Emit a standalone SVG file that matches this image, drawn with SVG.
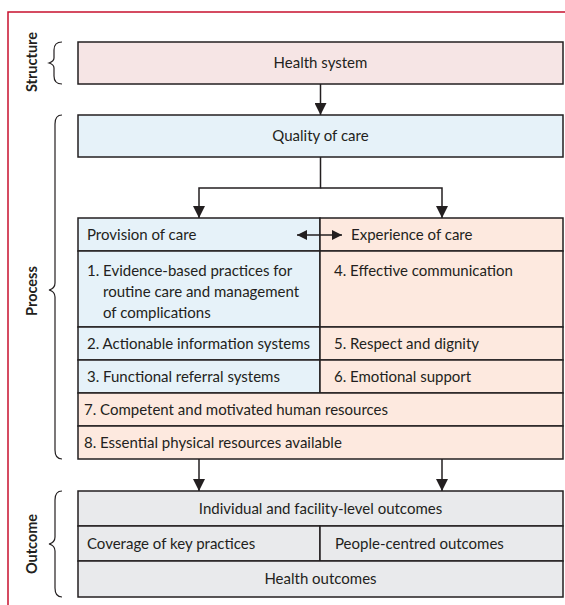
<svg xmlns="http://www.w3.org/2000/svg" width="565" height="605" viewBox="0 0 565 605">
<style>
text{font-family:Lato,"Open Sans","Liberation Sans",sans-serif;font-size:15px;fill:#231f20}
.c{text-anchor:middle}
.lbl{font-weight:bold;font-size:14.5px;text-anchor:middle}
.box{stroke:#231f20;stroke-width:1.5}
.pink{fill:#f6e5e5}
.blue{fill:#e6f2f9}
.peach{fill:#fde9df}
.grey{fill:#e9eaec}
.ln{fill:none;stroke:#231f20;stroke-width:1.5}
.br{fill:none;stroke:#231f20;stroke-width:1.2}
</style>
<defs>
<marker id="ah" viewBox="0 0 12 12" refX="12" refY="6" markerWidth="12" markerHeight="12" markerUnits="userSpaceOnUse" orient="auto-start-reverse">
<path d="M0,0 L12,6 L0,12 Z" fill="#231f20"/>
</marker>
<marker id="ah2" viewBox="0 0 10 10" refX="10" refY="5" markerWidth="10" markerHeight="10" markerUnits="userSpaceOnUse" orient="auto-start-reverse">
<path d="M0,0 L10,5 L0,10 Z" fill="#231f20"/>
</marker>
</defs>
<g id="frame">
<path d="M8,605 L8,12 L565,12" fill="none" stroke="#c8102e" stroke-width="1.5"/>
</g>
<g id="brackets">
<path class="br" d="M62,42 C56,42 54,45 54,50 L54,58 C54,61 52,62 49,63 C52,64 54,65 54,68 L54,76 C54,81 56,84 62,84"/>
<text class="lbl" transform="translate(37,62) rotate(-90)">Structure</text>
<path class="br" d="M62,115 C57,115 55,118 55,124 L55,283 C55,287 53,289 49,290 C53,291 55,293 55,297 L55,450 C55,456 57,459 62,459"/>
<text class="lbl" transform="translate(37,291) rotate(-90)">Process</text>
<path class="br" d="M62,491 C57,491 55,494 55,500 L55,537 C55,541 53,543 49,544 C53,545 55,547 55,551 L55,588 C55,594 57,597 62,597"/>
<text class="lbl" transform="translate(37,544) rotate(-90)">Outcome</text>
</g>
<g id="health-system">
<rect class="box pink" x="78" y="42" width="485" height="42"/>
<text class="c" x="320.5" y="68">Health system</text>
</g>
<g id="quality-of-care">
<rect class="box blue" x="78" y="115" width="485" height="42"/>
<text class="c" x="320.5" y="141">Quality of care</text>
</g>
<g id="provision-of-care">
<rect class="box blue" x="78" y="218" width="242" height="33"/>
<text x="87" y="240">Provision of care</text>
</g>
<g id="experience-of-care">
<rect class="box peach" x="320" y="218" width="243" height="33"/>
<text x="351" y="240">Experience of care</text>
</g>
<g id="item-1">
<rect class="box blue" x="78" y="251" width="242" height="76"/>
<text x="87" y="276">1. Evidence-based practices for</text>
<text x="103" y="297">routine care and management</text>
<text x="103" y="318">of complications</text>
</g>
<g id="item-4">
<rect class="box peach" x="320" y="251" width="243" height="76"/>
<text x="334" y="276">4. Effective communication</text>
</g>
<g id="item-2">
<rect class="box blue" x="78" y="327" width="242" height="33"/>
<text x="87" y="349">2. Actionable information systems</text>
</g>
<g id="item-5">
<rect class="box peach" x="320" y="327" width="243" height="33"/>
<text x="334" y="349">5. Respect and dignity</text>
</g>
<g id="item-3">
<rect class="box blue" x="78" y="360" width="242" height="33"/>
<text x="87" y="382">3. Functional referral systems</text>
</g>
<g id="item-6">
<rect class="box peach" x="320" y="360" width="243" height="33"/>
<text x="334" y="382">6. Emotional support</text>
</g>
<g id="item-7">
<rect class="box peach" x="78" y="393" width="485" height="33"/>
<text x="84" y="415">7. Competent and motivated human resources</text>
</g>
<g id="item-8">
<rect class="box peach" x="78" y="426" width="485" height="33"/>
<text x="84" y="448">8. Essential physical resources available</text>
</g>
<g id="individual-outcomes">
<rect class="box grey" x="78" y="491" width="485" height="35"/>
<text class="c" x="320.5" y="514">Individual and facility-level outcomes</text>
</g>
<g id="coverage">
<rect class="box grey" x="78" y="526" width="242" height="35"/>
<text x="87" y="549">Coverage of key practices</text>
</g>
<g id="people-centred">
<rect class="box grey" x="320" y="526" width="243" height="35"/>
<text x="335" y="549">People-centred outcomes</text>
</g>
<g id="health-outcomes">
<rect class="box grey" x="78" y="561" width="485" height="36"/>
<text class="c" x="320.5" y="584">Health outcomes</text>
</g>
<g id="connectors">
<line class="ln" x1="320.5" y1="84" x2="320.5" y2="115" marker-end="url(#ah)"/>
<polyline class="ln" points="320.5,157 320.5,188 199,188 199,218" marker-end="url(#ah)"/>
<polyline class="ln" points="320.5,188 442,188 442,218" marker-end="url(#ah)"/>
<line class="ln" x1="297" y1="235" x2="342" y2="235" marker-start="url(#ah2)" marker-end="url(#ah2)"/>
<line class="ln" x1="199" y1="459" x2="199" y2="491" marker-end="url(#ah)"/>
<line class="ln" x1="442" y1="459" x2="442" y2="491" marker-end="url(#ah)"/>
</g>
</svg>
